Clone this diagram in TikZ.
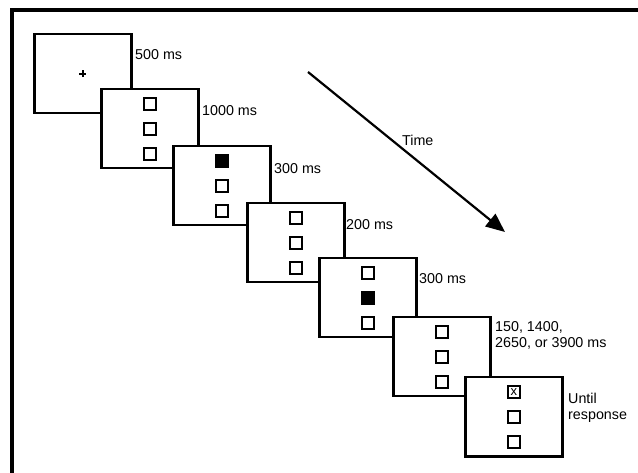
\documentclass[tikz,border=0pt]{standalone}
\usepackage{fontspec}
\setmainfont{Liberation Sans}
\usetikzlibrary{arrows.meta,calc}
\tikzset{
  screen/.style={draw, line width=2.5pt, fill=white, minimum width=97pt, minimum height=79pt, inner sep=0pt, anchor=north west},
  cue/.style={draw, line width=2.4pt, fill=white, minimum size=12pt, inner sep=0pt},
  cuefill/.style={cue, fill=black},
  lbl/.style={anchor=base west, inner sep=0pt, font=\fontsize{14.3}{16}\selectfont, align=left},
  timearrow/.style={line width=2.2pt, -{Triangle[length=19pt,width=16pt]}},
  fixline/.style={line width=2.4pt}
}
\begin{document}
\begin{tikzpicture}[x=1pt,y=-1pt]
\useasboundingbox (0,0) rectangle (638,473);
% outer frame (only top and left visible)
\draw[line width=4pt] (12,480) -- (12,10) -- (645,10);

% screens
\node[screen] (b1) at (33,33) {};
\draw[fixline] ([xshift=-3.5pt]b1.center) -- ([xshift=3.5pt]b1.center);
\draw[fixline] ([yshift=-3.5pt]b1.center) -- ([yshift=3.5pt]b1.center);
\node[lbl] (l1) at (135,60) {500 ms};

\node[screen] (b2) at (100,88) {};
\node[cue] (b2a) at ([yshift=25pt]b2.center) {};
\node[cue] (b2b) at (b2.center) {};
\node[cue] (b2c) at ([yshift=-25pt]b2.center) {};
\node[lbl] (l2) at (202,116) {1000 ms};

\node[screen] (b3) at (172,145) {};
\node[cuefill] (b3a) at ([yshift=25pt]b3.center) {};
\node[cue] (b3b) at (b3.center) {};
\node[cue] (b3c) at ([yshift=-25pt]b3.center) {};
\node[lbl] (l3) at (274,174) {300 ms};

\node[screen] (b4) at (246,202) {};
\node[cue] (b4a) at ([yshift=25pt]b4.center) {};
\node[cue] (b4b) at (b4.center) {};
\node[cue] (b4c) at ([yshift=-25pt]b4.center) {};
\node[lbl] (l4) at (346,230) {200 ms};

\node[screen] (b5) at (318,257) {};
\node[cue] (b5a) at ([yshift=25pt]b5.center) {};
\node[cuefill] (b5b) at (b5.center) {};
\node[cue] (b5c) at ([yshift=-25pt]b5.center) {};
\node[lbl] (l5) at (419,284) {300 ms};

\node[screen] (b6) at (392,316) {};
\node[cue] (b6a) at ([yshift=25pt]b6.center) {};
\node[cue] (b6b) at (b6.center) {};
\node[cue] (b6c) at ([yshift=-25pt]b6.center) {};
\node[lbl] (l6a) at (495,332) {150, 1400,};
\node[lbl] (l6b) at (495,348) {2650, or 3900 ms};

\node[screen] (b7) at (464,376) {};
\node[cue, font=\fontsize{13}{13}\selectfont] (b7a) at ([yshift=25pt]b7.center) {x};
\node[cue] (b7b) at (b7.center) {};
\node[cue] (b7c) at ([yshift=-25pt]b7.center) {};
\node[lbl] (l7a) at (568,403) {Until};
\node[lbl] (l7b) at (568,419) {response};

% time arrow
\coordinate (ts) at (308,72);
\coordinate (te) at (505,232);
\draw[timearrow] (ts) -- (te);
\node[lbl] (time) at (402,146) {Time};
\end{tikzpicture}
\end{document}
